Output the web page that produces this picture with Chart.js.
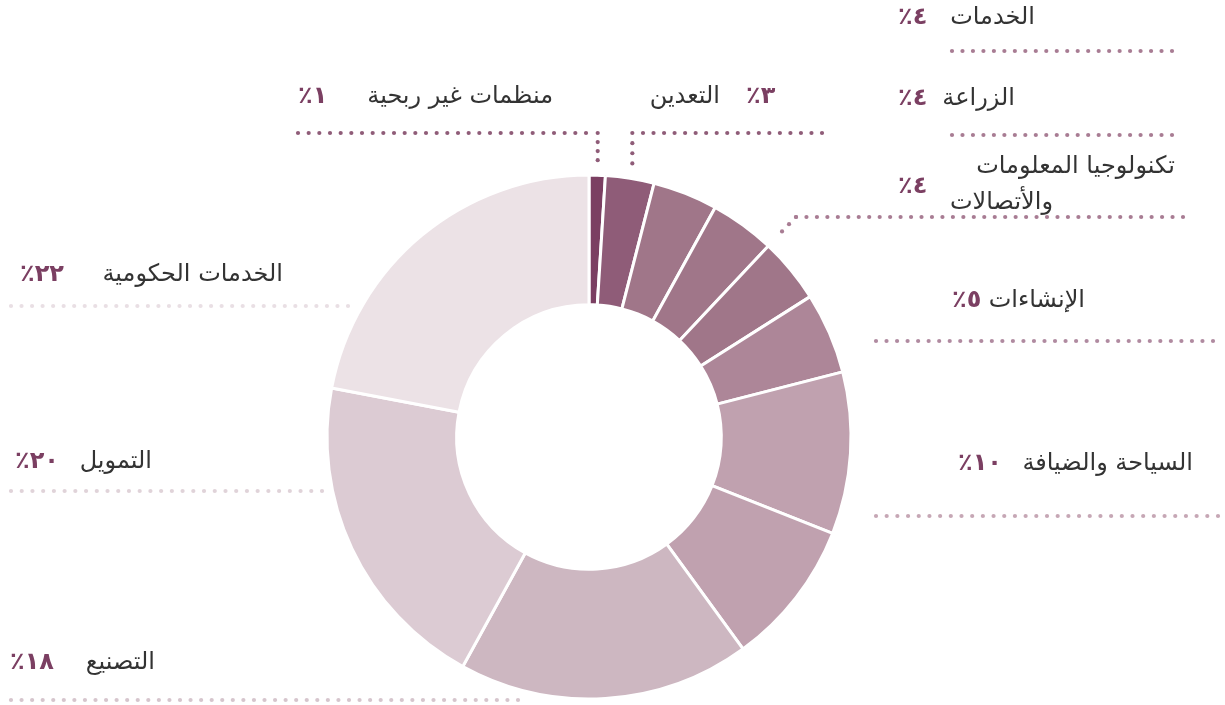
<!DOCTYPE html>
<html lang="ar">
<head>
<meta charset="utf-8">
<script src="https://cdn.jsdelivr.net/npm/chart.js@4/dist/chart.umd.min.js"></script>
<style>
  html, body { margin: 0; padding: 0; background: #ffffff; }
  #wrap { position: relative; width: 1225px; height: 705px; }
</style>
</head>
<body>
<div id="wrap"><canvas id="c"></canvas></div>
<script>
// ---- data ----
const categories = ['منظمات غير ربحية', 'التعدين', 'الخدمات', 'الزراعة', 'تكنولوجيا المعلومات والأتصالات', 'الإنشاءات', 'السياحة والضيافة', '', 'التصنيع', 'التمويل', 'الخدمات الحكومية'];
const values = [1, 3, 4, 4, 4, 5, 10, 9, 18, 20, 22];
const percentLabels = ['٪١', '٪٣', '٪٤', '٪٤', '٪٤', '٪٥', '٪١٠', '', '٪١٨', '٪٢٠', '٪٢٢'];

// ---- styles ----
const segmentColors = ['#7b3f62', '#8f5c78', '#a07689', '#a07689', '#a07689', '#ad8698', '#c0a1af', '#c0a1af', '#cdb7c1', '#dccbd3', '#ece2e6'];

// label layout (annotation positions, in px)
const labelLayout = [
  { lines: ['منظمات غير ربحية'], tx: 553, ty: [97], px: 298, py: 97, lineY: 133, x1: 298, x2: 586, dot: '#8f5c78', conn: 'down', frac: 0.5, off: 15 },
  { lines: ['التعدين'], tx: 720, ty: [97], px: 746, py: 97, lineY: 133, x1: 643, x2: 822, dot: '#8f5c78', conn: 'down', frac: 0.5, off: 15 },
  { lines: ['الخدمات'], tx: 1035, ty: [18], px: 898, py: 18, lineY: 51, x1: 952, x2: 1172, dot: '#a87c93' },
  { lines: ['الزراعة'], tx: 1015, ty: [99], px: 898, py: 99, lineY: 135, x1: 952, x2: 1172, dot: '#a87c93' },
  { lines: ['تكنولوجيا المعلومات', 'والأتصالات'], tx: 1175, ty: [167, 203], align2: 950, px: 898, py: 187, lineY: 217, x1: 796, x2: 1183, dot: '#a87c93', conn: 'diag', frac: 0.0, off: 20 },
  { lines: ['الإنشاءات'], tx: 1085, ty: [301], px: 952, py: 301, lineY: 341, x1: 876, x2: 1213, dot: '#b08aa0' },
  { lines: ['السياحة والضيافة'], tx: 1193, ty: [464], px: 958, py: 464, lineY: 516, x1: 876, x2: 1218, dot: '#c6a7b5' },
  null,
  { lines: ['التصنيع'], tx: 155, ty: [663], px: 10, py: 663, lineY: 700, x1: 11, x2: 518, dot: '#d6c5cd' },
  { lines: ['التمويل'], tx: 152, ty: [462], px: 15, py: 462, lineY: 491, x1: 11, x2: 322, dot: '#e0d3d9' },
  { lines: ['الخدمات الحكومية'], tx: 283, ty: [275], px: 20, py: 275, lineY: 306, x1: 11, x2: 348, dot: '#e9dfe4' }
];

function dotLine(ctx, xa, ya, xb, yb, color) {
  const len = Math.hypot(xb - xa, yb - ya);
  const step = 10.6;
  const n = Math.max(1, Math.round(len / step));
  ctx.fillStyle = color;
  for (let k = 0; k <= n; k++) {
    const t = k / n;
    ctx.beginPath();
    ctx.arc(xa + (xb - xa) * t, ya + (yb - ya) * t, 2.1, 0, Math.PI * 2);
    ctx.fill();
  }
}

const labelPlugin = {
  id: 'leaderLabels',
  afterDraw(chart) {
    const ctx = chart.ctx;
    const meta = chart.getDatasetMeta(0);
    ctx.save();
    categories.forEach((cat, i) => {
      const L = labelLayout[i];
      if (!L || !cat) return;
      // dotted leader
      dotLine(ctx, L.x1, L.lineY, L.x2, L.lineY, L.dot);
      if (L.conn) {
        const arc = meta.data[i];
        const ang = arc.startAngle + L.frac * (arc.endAngle - arc.startAngle);
        const r = arc.outerRadius + L.off;
        const ax = arc.x + r * Math.cos(ang);
        const ay = arc.y + r * Math.sin(ang);
        if (L.conn === 'down') {
          dotLine(ctx, ax, L.lineY, ax, ay, L.dot);
        } else {
          dotLine(ctx, ax, ay, L.x1, L.lineY, L.dot);
        }
      }
      // category text
      ctx.fillStyle = '#333333';
      ctx.font = '24px "DejaVu Sans", "Noto Sans", sans-serif';
      ctx.textBaseline = 'middle';
      ctx.direction = 'rtl';
      L.lines.forEach((line, j) => {
        if (j === 1 && L.align2 !== undefined) {
          ctx.textAlign = 'left';
          ctx.fillText(line, L.align2, L.ty[j]);
        } else {
          ctx.textAlign = 'right';
          ctx.fillText(line, L.tx, L.ty[j]);
        }
      });
      // percentage
      ctx.direction = 'ltr';
      ctx.textAlign = 'left';
      ctx.fillStyle = '#7b3f62';
      ctx.font = 'bold 24px "DejaVu Sans", "Noto Sans", sans-serif';
      ctx.fillText(percentLabels[i], L.px, L.py);
    });
    ctx.restore();
  }
};

new Chart(document.getElementById('c'), {
  type: 'doughnut',
  data: {
    labels: categories,
    datasets: [{
      data: values,
      backgroundColor: segmentColors,
      borderColor: '#ffffff',
      borderWidth: 3,
      hoverOffset: 0,
      hoverBorderWidth: 3
    }]
  },
  options: {
    responsive: true,
    maintainAspectRatio: false,
    animation: false,
    events: [],
    cutout: '50.5%',
    layout: { padding: { top: 173.5, bottom: 4.5, left: 0, right: 47 } },
    plugins: {
      legend: { display: false },
      tooltip: { enabled: false },
      title: { display: false }
    }
  },
  plugins: [labelPlugin]
});
</script>
</body>
</html>
